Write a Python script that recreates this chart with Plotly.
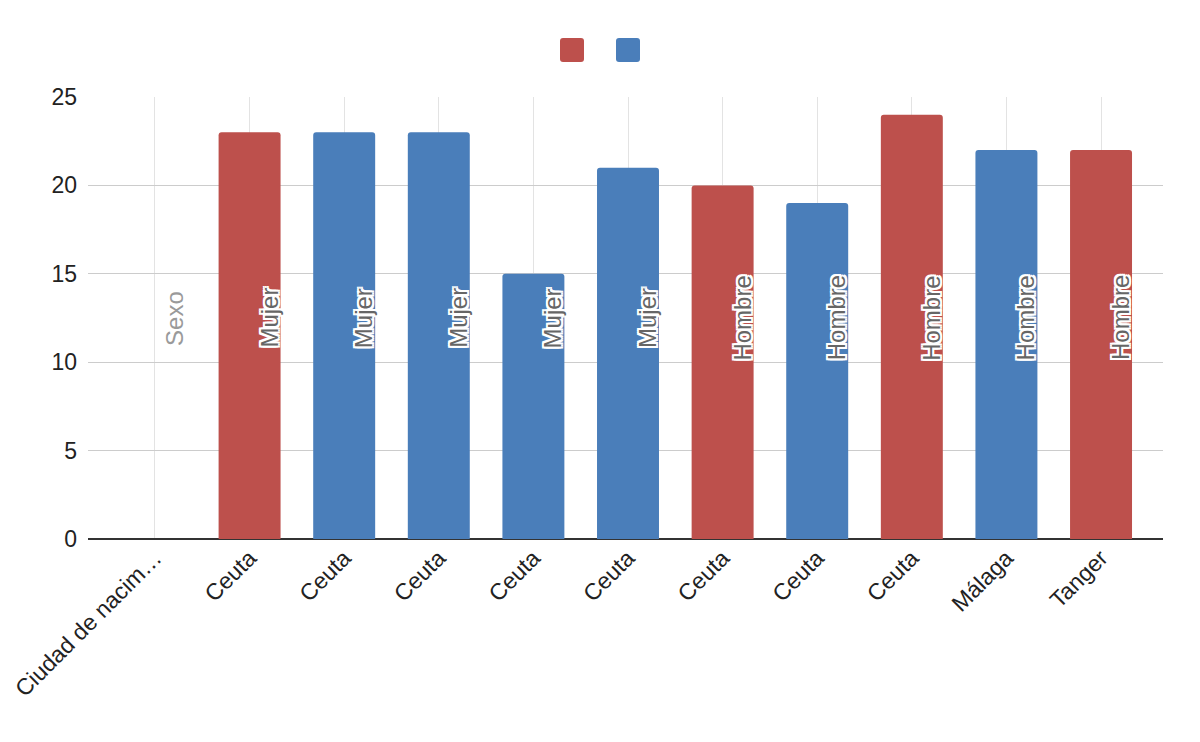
import plotly.graph_objects as go

categories = ["Ciudad de nacim…", "Ceuta", "Ceuta", "Ceuta", "Ceuta", "Ceuta",
              "Ceuta", "Ceuta", "Ceuta", "Málaga", "Tanger"]
values = [0, 23, 23, 23, 15, 21, 20, 19, 24, 22, 22]
sexo = ["Sexo", "Mujer", "Mujer", "Mujer", "Mujer", "Mujer",
        "Hombre", "Hombre", "Hombre", "Hombre", "Hombre"]
series = [None, "red", "blue", "blue", "blue", "blue", "red", "blue", "red", "blue", "red"]

RED = "#BD504C"
BLUE = "#4A7EBA"
FONT = "Liberation Sans, Arial, sans-serif"

idx = list(range(len(categories)))
red_y = [v if s == "red" else None for v, s in zip(values, series)]
blue_y = [v if s == "blue" else None for v, s in zip(values, series)]

fig = go.Figure()
fig.add_trace(go.Bar(x=idx, y=red_y, name="", marker_color=RED, marker_line_width=0))
fig.add_trace(go.Bar(x=idx, y=blue_y, name="", marker_color=BLUE, marker_line_width=0))

outline = ("-2px -2px 0 #fff, 2px -2px 0 #fff, -2px 2px 0 #fff, 2px 2px 0 #fff, "
           "0 2px 0 #fff, 0 -2px 0 #fff, 2px 0 0 #fff, -2px 0 0 #fff")
for i, lab in enumerate(sexo):
    first = (i == 0)
    fig.add_annotation(
        x=i, y=12.5, xref="x", yref="y", text=lab, showarrow=False,
        textangle=-90, xshift=19,
        font=dict(family=FONT, size=24, color="#9a9a9a" if first else "#666666",
                  shadow="none" if first else outline),
    )

# legend squares (no text)
def rounded(x0, x1, y0, y1, r=3):
    return (f"M{x0+r},{y0} L{x1-r},{y0} Q{x1},{y0} {x1},{y0+r} L{x1},{y1-r} "
            f"Q{x1},{y1} {x1-r},{y1} L{x0+r},{y1} Q{x0},{y1} {x0},{y1-r} "
            f"L{x0},{y0+r} Q{x0},{y0} {x0+r},{y0} Z")

L, T, PW, PH = 80, 89, 1075, 442
for col, (a, b) in [(RED, (-40, -16)), (BLUE, (16, 40))]:
    fig.add_shape(type="path", xref="paper", yref="paper",
                  xsizemode="pixel", ysizemode="pixel",
                  xanchor=(600 - 88) / PW, yanchor=(539 - 50) / PH,
                  path=rounded(a, b, -12, 12), fillcolor=col, line_width=0)

fig.update_layout(
    width=1200, height=742,
    margin=dict(l=L, r=1200 - L - PW, t=T, b=742 - T - PH, autoexpand=False),
    barmode="overlay", bargap=0.345, barcornerradius=3,
    showlegend=False,
    plot_bgcolor="white", paper_bgcolor="white",
    font=dict(family=FONT, size=23, color="#222"),
)
fig.update_xaxes(
    tickmode="array", tickvals=idx, ticktext=categories, tickangle=-45,
    range=[-0.708, 10.655], showgrid=True, gridcolor="#e3e3e3", gridwidth=1,
    zeroline=False, ticks="", tickfont=dict(size=23, color="#222"),
    automargin=False,
)
fig.update_yaxes(
    range=[0, 25], tickvals=[0, 5, 10, 15, 20, 25], showgrid=True,
    gridcolor="#cccccc", gridwidth=1, zeroline=True, zerolinecolor="#333",
    zerolinewidth=1.5, ticks="", ticklabelstandoff=10,
    tickfont=dict(size=23, color="#222"), automargin=False,
)

fig.write_html("out.html")
